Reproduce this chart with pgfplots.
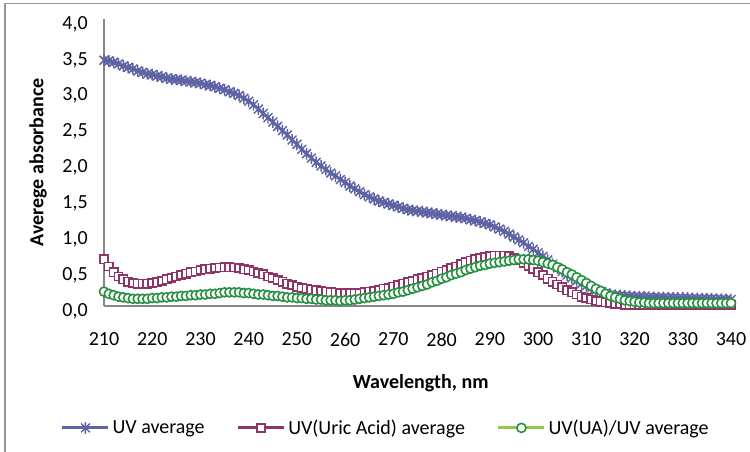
\documentclass[border=0pt]{standalone}
\usepackage{fontspec}
\setmainfont{Carlito}
\usepackage{pgfplots}
\usepackage{pgfplotstable}
\pgfplotsset{compat=1.18}

\definecolor{uvblue}{RGB}{94,99,163}
\definecolor{uamaroon}{RGB}{143,52,102}
\definecolor{ratiogreen}{RGB}{40,145,65}
\definecolor{ratioline}{RGB}{146,200,80}
\definecolor{axisgray}{RGB}{134,134,134}
\definecolor{framegray}{RGB}{150,150,150}

% Excel-style star: a vertical bar crossed by an X
\pgfdeclareplotmark{xstar}{%
  \pgfpathmoveto{\pgfqpoint{0pt}{\pgfplotmarksize}}%
  \pgfpathlineto{\pgfqpoint{0pt}{-\pgfplotmarksize}}%
  \pgfpathmoveto{\pgfqpoint{-0.75\pgfplotmarksize}{0.75\pgfplotmarksize}}%
  \pgfpathlineto{\pgfqpoint{0.75\pgfplotmarksize}{-0.75\pgfplotmarksize}}%
  \pgfpathmoveto{\pgfqpoint{-0.75\pgfplotmarksize}{-0.75\pgfplotmarksize}}%
  \pgfpathlineto{\pgfqpoint{0.75\pgfplotmarksize}{0.75\pgfplotmarksize}}%
  \pgfusepathqstroke}

% wavelength (nm), UV average, UV(Uric Acid) average, UV(UA)/UV average
\pgfplotstableread{
wl   uv    ua    ratio
210  3.42  0.65  0.20
211  3.41  0.55  0.17
212  3.39  0.47  0.15
213  3.37  0.41  0.13
214  3.34  0.37  0.12
215  3.32  0.34  0.11
216  3.30  0.32  0.10
217  3.27  0.31  0.10
218  3.25  0.31  0.10
219  3.23  0.31  0.10
220  3.22  0.32  0.11
221  3.20  0.33  0.11
222  3.19  0.35  0.12
223  3.17  0.37  0.12
224  3.16  0.39  0.13
225  3.15  0.41  0.13
226  3.14  0.43  0.14
227  3.13  0.45  0.14
228  3.12  0.47  0.15
229  3.11  0.48  0.15
230  3.10  0.50  0.16
231  3.08  0.51  0.16
232  3.07  0.52  0.17
233  3.05  0.53  0.17
234  3.03  0.535 0.18
235  3.01  0.54  0.19
236  2.98  0.54  0.19
237  2.96  0.535 0.19
238  2.93  0.53  0.19
239  2.89  0.51  0.18
240  2.85  0.50  0.18
241  2.80  0.48  0.17
242  2.74  0.46  0.16
243  2.68  0.44  0.16
244  2.62  0.41  0.15
245  2.56  0.39  0.14
246  2.50  0.36  0.14
247  2.44  0.34  0.13
248  2.38  0.31  0.12
249  2.31  0.29  0.12
250  2.25  0.27  0.11
251  2.18  0.25  0.11
252  2.12  0.24  0.10
253  2.06  0.23  0.10
254  2.00  0.22  0.09
255  1.95  0.21  0.09
256  1.90  0.20  0.08
257  1.85  0.19  0.08
258  1.81  0.185 0.08
259  1.76  0.18  0.07
260  1.72  0.18  0.08
261  1.67  0.18  0.08
262  1.63  0.18  0.09
263  1.59  0.18  0.10
264  1.55  0.19  0.11
265  1.52  0.20  0.12
266  1.49  0.21  0.13
267  1.46  0.22  0.14
268  1.44  0.24  0.15
269  1.42  0.25  0.16
270  1.40  0.27  0.17
271  1.38  0.29  0.19
272  1.36  0.31  0.20
273  1.34  0.33  0.22
274  1.33  0.35  0.24
275  1.32  0.37  0.26
276  1.31  0.39  0.28
277  1.30  0.41  0.30
278  1.29  0.43  0.33
279  1.28  0.45  0.35
280  1.27  0.48  0.38
281  1.26  0.50  0.40
282  1.25  0.53  0.43
283  1.24  0.55  0.45
284  1.23  0.58  0.47
285  1.22  0.61  0.50
286  1.20  0.63  0.52
287  1.19  0.65  0.54
288  1.17  0.67  0.56
289  1.15  0.68  0.57
290  1.13  0.69  0.59
291  1.10  0.70  0.60
292  1.07  0.70  0.61
293  1.04  0.70  0.62
294  1.00  0.69  0.63
295  0.96  0.67  0.64
296  0.92  0.64  0.65
297  0.88  0.60  0.65
298  0.83  0.56  0.65
299  0.79  0.52  0.64
300  0.74  0.47  0.63
301  0.69  0.43  0.61
302  0.64  0.38  0.59
303  0.58  0.34  0.57
304  0.53  0.30  0.54
305  0.48  0.26  0.51
306  0.43  0.22  0.47
307  0.39  0.19  0.44
308  0.35  0.16  0.40
309  0.31  0.13  0.36
310  0.28  0.11  0.32
311  0.25  0.09  0.28
312  0.22  0.07  0.24
313  0.20  0.06  0.21
314  0.18  0.05  0.17
315  0.16  0.04  0.14
316  0.15  0.03  0.12
317  0.145 0.03  0.10
318  0.14  0.02  0.08
319  0.135 0.02  0.07
320  0.13  0.02  0.06
321  0.13  0.02  0.05
322  0.125 0.02  0.05
323  0.125 0.02  0.04
324  0.12  0.02  0.04
325  0.12  0.02  0.04
326  0.12  0.02  0.04
327  0.115 0.02  0.04
328  0.115 0.02  0.04
329  0.11  0.02  0.04
330  0.11  0.02  0.04
331  0.11  0.02  0.04
332  0.105 0.02  0.04
333  0.105 0.02  0.04
334  0.10  0.02  0.04
335  0.10  0.02  0.04
336  0.10  0.02  0.04
337  0.095 0.02  0.04
338  0.095 0.02  0.04
339  0.09  0.02  0.04
340  0.09  0.02  0.04
}\spectra

\begin{document}
\begin{tikzpicture}[font=\fontsize{15pt}{18pt}\selectfont]
\useasboundingbox (0,0) rectangle (562.5pt,338.25pt);
% chart frame
\draw[framegray, line width=1.1pt] (3.75pt,-2pt) -- (3.75pt,335.5pt) -- (566pt,335.5pt);
\begin{axis}[
  at={(78pt,108.75pt)}, anchor=south west,
  scale only axis, width=470.25pt, height=215.6pt,
  xmin=210, xmax=340, ymin=0, ymax=4,
  axis x line*=bottom, axis y line*=left,
  axis line style={axisgray, line width=0.8pt, -},
  xtick={210,220,...,340}, ytick={0,0.5,...,4},
  major tick length=0pt,
  /pgf/number format/assume math mode=true,
  xticklabel style={/pgf/number format/set thousands separator={},
    anchor=center, yshift=-25pt},
  yticklabel style={/pgf/number format/.cd, fixed, fixed zerofill,
    precision=1, use comma, /tikz/.cd, anchor=east, inner sep=0pt, xshift=-12pt, yshift=-4pt},
  xlabel={\bfseries Wavelength, nm},
  ylabel={\bfseries Averege absorbance},
  x label style={at={(axis description cs:0.505,-0.268)}, anchor=center},
  y label style={at={(axis description cs:-0.1053,0.5)}, anchor=center},
  legend columns=3,
  legend style={at={(axis description cs:0.45,-0.424)}, anchor=center,
    draw=none, fill=none, inner sep=0pt,
    /tikz/every even column/.append style={column sep=22pt},
    nodes={inner sep=2pt}},
  legend image code/.code={%
    \draw[#1, mark repeat=2, mark phase=2]
      plot coordinates {(0pt,0pt) (17.25pt,0pt) (34.5pt,0pt)};},
]
\addplot[uvblue, line width=2.2pt, mark=xstar, mark size=4.4pt,
  mark options={line width=1.1pt, solid}]
  table[x=wl, y=uv] {\spectra};
\addlegendentry{UV average}
\addplot[uamaroon, line width=2.2pt, mark=square*, mark size=3.1pt,
  mark options={line width=1.2pt, fill=white, draw=uamaroon, solid}]
  table[x=wl, y=ua] {\spectra};
\addlegendentry{UV(Uric Acid) average}
\addplot[ratioline, line width=2.2pt, mark=*, mark size=3.4pt,
  mark options={line width=1.2pt, fill=white, draw=ratiogreen, solid}]
  table[x=wl, y=ratio] {\spectra};
\addlegendentry{UV(UA)/UV average}
\end{axis}
\end{tikzpicture}
\end{document}
